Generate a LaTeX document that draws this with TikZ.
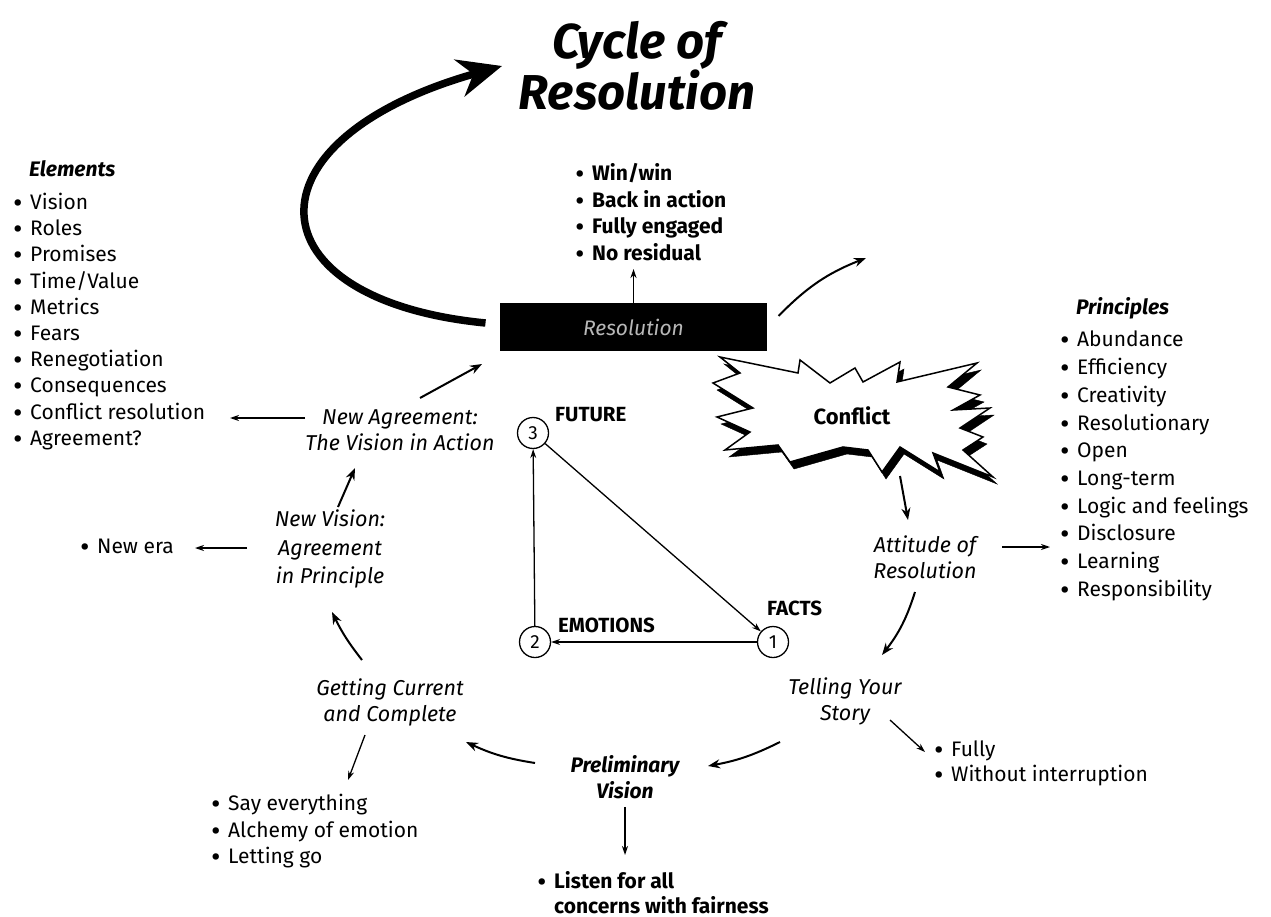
\documentclass[tikz,border=0pt]{standalone}
\usepackage{fontspec}
\setmainfont{Fira Sans}
\newfontfamily\ptsans{PT Sans}
\usetikzlibrary{arrows.meta}
\newcommand{\bl}{\makebox[17pt][l]{{\ptsans\bfseries\textbullet}}}
\begin{document}
\begin{tikzpicture}[x=1pt,y=1pt,
  lbl/.style={font=\fontsize{21.5}{26}\selectfont\itshape, align=center, inner sep=1pt},
  lst/.style={font=\fontsize{21}{26.2}\selectfont, align=left, anchor=north west, inner sep=0pt},
  hd/.style={font=\fontsize{21}{26}\selectfont\bfseries\itshape, anchor=west, inner sep=0pt},
  cyc/.style={-{Stealth[length=12pt,width=9pt]}, line width=2pt},
  thin/.style={-{Stealth[length=9pt,width=6pt]}, line width=1.3pt},
  num/.style={circle, draw, line width=1.3pt, minimum size=31pt, inner sep=0pt, font=\fontsize{19}{22}\selectfont},
  tri/.style={font=\fontsize{20.5}{22}\selectfont\bfseries, anchor=west, inner sep=0pt},
  burst/.pic={\path[pic actions] (720,-357) -- (798,-373) -- (800,-360) -- (830,-383) -- (855,-368) -- (863,-382) -- (900,-362) -- (897,-382) -- (977,-363) -- (948,-387) -- (980,-395) -- (953,-410) -- (990,-408) -- (960,-428) -- (983,-437) -- (963,-450) -- (993,-477) -- (933,-453) -- (940,-472) -- (900,-447) -- (882,-472) -- (868,-450) -- (843,-447) -- (790,-462) -- (778,-445) -- (725,-450) -- (750,-432) -- (717,-417) -- (753,-408) -- (713,-383) -- (740,-373) -- cycle;}
]
\fill[white] (0,0) rectangle (1271,-917);
\useasboundingbox (0,0) rectangle (1271,-917);

% title
\node[font=\fontsize{49}{48}\selectfont\bfseries\itshape, align=center, inner sep=0pt] (title) at (637,-66) {Cycle of\\Resolution};

% resolution box
\node[fill=black, minimum width=267pt, minimum height=48pt, inner sep=0pt, text=black!28, font=\fontsize{21}{24}\selectfont\itshape] (res) at (633.5,-327) {Resolution};
\node[lst, font=\fontsize{21}{26.7}\selectfont\bfseries] (reslist) at (575,-163) {\bl Win/win\\\bl Back in action\\\bl Fully engaged\\\bl No residual};

% conflict starburst
\pic[fill=black, draw=black] at (4,-7) {burst};
\pic[fill=white, draw=black, line width=1.5pt] at (0,0) {burst};
\node[font=\fontsize{22}{24}\selectfont\bfseries] (conflict) at (852,-416) {Conflict};

% cycle labels
\node[lbl] (attitude) at (925,-557) {Attitude of\\Resolution};
\node[lbl] (telling) at (845,-701) {Telling Your\\Story};
\node[lbl, font=\fontsize{21}{26}\selectfont\bfseries\itshape] (prelim) at (625,-777) {Preliminary\\Vision};
\node[lbl] (getting) at (390,-702) {Getting Current\\and Complete};
\node[lbl, font=\fontsize{21.5}{28.5}\selectfont\itshape] (newvision) at (330,-549) {New Vision:\\Agreement\\in Principle};
\node[lbl] (newagree) at (400,-430) {New Agreement:\\The Vision in Action};

% lists
\node[hd] (elhead) at (29,-169) {Elements};
\node[lst] (elements) at (13,-193) {\bl Vision\\\bl Roles\\\bl Promises\\\bl Time/Value\\\bl Metrics\\\bl Fears\\\bl Renegotiation\\\bl Consequences\\\bl Conflict resolution\\\bl Agreement?};
\node[hd] (prhead) at (1076,-308) {Principles};
\node[lst, font=\fontsize{21}{27.7}\selectfont] (princ) at (1060,-331) {\bl Abundance\\\bl Efficiency\\\bl Creativity\\\bl Resolutionary\\\bl Open\\\bl Long-term\\\bl Logic and feelings\\\bl Disclosure\\\bl Learning\\\bl Responsibility};
\node[lst, font=\fontsize{21}{25}\selectfont] (fully) at (934,-741) {\bl Fully\\\bl Without interruption};
\node[lst, font=\fontsize{21}{26.5}\selectfont] (say) at (211,-794) {\bl Say everything\\\bl Alchemy of emotion\\\bl Letting go};
\node[lst] (newera) at (80,-539) {\bl New era};
\node[lst, font=\fontsize{21}{25}\selectfont\bfseries] (listen) at (537,-871) {\bl Listen for all\\\hphantom{\bl}concerns with fairness};

% triangle
\node[num] (n3) at (533,-433) {3};
\node[num] (n2) at (535,-642) {2};
\node[num] (n1) at (773,-642) {1};
\node[tri] (future) at (555,-415) {FUTURE};
\node[tri] (emotions) at (558,-625) {EMOTIONS};
\node[tri] (facts) at (767,-608) {FACTS};
\draw[thin] (n3) -- (n1);
\draw[thin] (n1) -- (n2);
\draw[thin] (n2) -- (n3);

% big arrow
\draw[line width=7.5pt, -{Stealth[length=44pt,width=38pt]}] ([shift={(-148,4)}]res.center) .. controls (250,-300) and (240,-140) .. ([shift={(-135,0)}]title.center);

% resolution arrows
\coordinate (resout) at (866,-258);
\draw[cyc] ([shift={(145,11)}]res.center) to[bend left=12] (resout);
\draw[thin] (res.north) -- ([yshift=-8pt]res.north |- reslist.south);

% cycle arrows
\draw[cyc] ([shift={(48,-60)}]conflict.center) -- ([shift={(-17,37)}]attitude.center);
\draw[cyc] ([shift={(-10,-35)}]attitude.center) to[bend left=10] ([shift={(37,46)}]telling.center);
\draw[cyc] ([shift={(-65,-41)}]telling.center) to[bend left=8] ([shift={(83,11)}]prelim.center);
\draw[cyc] ([shift={(-90,14)}]prelim.center) to[bend left=8] ([shift={(76,-40)}]getting.center);
\draw[cyc] ([shift={(-28,42)}]getting.center) to[bend left=6] ([shift={(2,-63)}]newvision.center);
\draw[cyc] ([shift={(8,42)}]newvision.center) -- ([shift={(-45,-38)}]newagree.center);
\draw[cyc] ([shift={(20,32)}]newagree.center) -- ([shift={(82,66)}]newagree.center);

% side arrows
\draw[thin] ([shift={(77,10)}]attitude.center) -- ([shift={(-10,-216)}]princ.north west);
\draw[thin] ([shift={(45,-19)}]telling.center) -- ([shift={(-9,-11)}]fully.north west);
\draw[thin] ([shift={(0,-7)}]prelim.south) -- ([shift={(88,16)}]listen.north west);
\draw[thin] ([shift={(-25,-33)}]getting.center) -- ([shift={(137,14)}]say.north west);
\draw[thin] ([shift={(-83,1)}]newvision.center) -- ([shift={(115,-9)}]newera.north west);
\draw[thin] ([shift={(-95,12)}]newagree.center) -- ([shift={(217,-225)}]elements.north west);
\end{tikzpicture}
\end{document}
